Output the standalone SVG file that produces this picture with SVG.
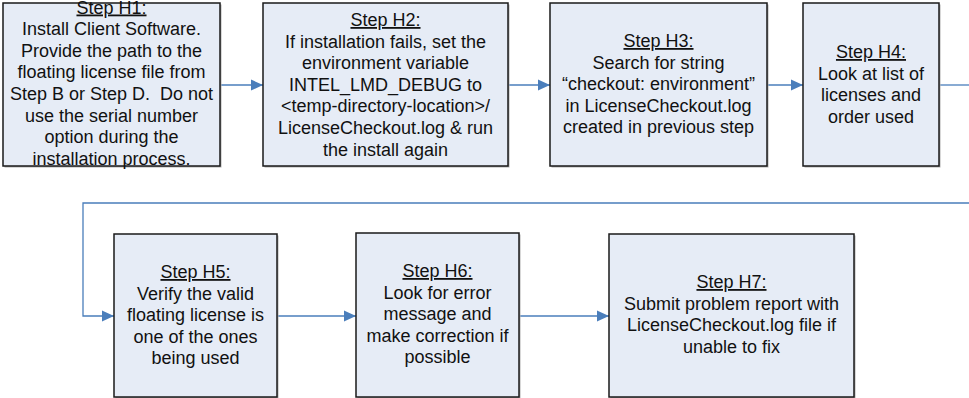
<svg xmlns="http://www.w3.org/2000/svg" width="969" height="398" viewBox="0 0 969 398">
<defs>
<marker id="arr" markerUnits="userSpaceOnUse" markerWidth="14" markerHeight="12" refX="12" refY="6" orient="auto">
<path d="M0,0.5 L12,6 L0,11.5 Z" fill="#4A7EBB"/>
</marker>
</defs>
<style>
.box{fill:#E6ECF6;stroke:#1a1a1a;stroke-width:1.5}
.sh{fill:#b0b0b0}
.t{font-family:"Liberation Sans",Arial,sans-serif;font-size:18px;fill:#111;text-anchor:middle}
.u{text-decoration:underline}
.c{fill:none;stroke:#4A7EBB;stroke-width:1.3}
</style>
<rect width="969" height="398" fill="#fff"/>
<g id="connectors">
<path class="c" d="M220,85 H263" marker-end="url(#arr)"/>
<path class="c" d="M508,85 H550" marker-end="url(#arr)"/>
<path class="c" d="M767,85 H803" marker-end="url(#arr)"/>
<path class="c" d="M939,85 H969"/>
<path class="c" d="M969,203 H83 V316 H114" marker-end="url(#arr)"/>
<path class="c" d="M277,316 H356" marker-end="url(#arr)"/>
<path class="c" d="M519,316 H609" marker-end="url(#arr)"/>
</g>
<g id="H1">
<rect class="sh" x="4.5" y="4.5" width="217" height="163"/>
<rect class="box" x="3" y="3" width="217" height="163"/>
<text class="t" x="111.5" y="13.5"><tspan class="u">Step H1:</tspan><tspan x="111.5" dy="21.6">Install Client Software.</tspan><tspan x="111.5" dy="21.6">Provide the path to the</tspan><tspan x="111.5" dy="21.6">floating license file from</tspan><tspan x="111.5" dy="21.6">Step B or Step D.&#160; Do not</tspan><tspan x="111.5" dy="21.6">use the serial number</tspan><tspan x="111.5" dy="21.6">option during the</tspan><tspan x="111.5" dy="21.6">installation process.</tspan></text>
</g>
<g id="H2">
<rect class="sh" x="264.5" y="4.5" width="245" height="163"/>
<rect class="box" x="263" y="3" width="245" height="163"/>
<text class="t" x="385.5" y="26"><tspan class="u">Step H2:</tspan><tspan x="385.5" dy="21.6">If installation fails, set the</tspan><tspan x="385.5" dy="21.6">environment variable</tspan><tspan x="385.5" dy="21.6">INTEL_LMD_DEBUG to</tspan><tspan x="385.5" dy="21.6">&lt;temp-directory-location&gt;/</tspan><tspan x="385.5" dy="21.6">LicenseCheckout.log &amp; run</tspan><tspan x="385.5" dy="21.6">the install again</tspan></text>
</g>
<g id="H3">
<rect class="sh" x="551.5" y="4.5" width="217" height="163"/>
<rect class="box" x="550" y="3" width="217" height="163"/>
<text class="t" x="658.5" y="47"><tspan class="u">Step H3:</tspan><tspan x="658.5" dy="21.6">Search for string</tspan><tspan x="658.5" dy="21.6">“checkout: environment”</tspan><tspan x="658.5" dy="21.6">in LicenseCheckout.log</tspan><tspan x="658.5" dy="21.6">created in previous step</tspan></text>
</g>
<g id="H4">
<rect class="sh" x="804.5" y="4.5" width="136" height="163"/>
<rect class="box" x="803" y="3" width="136" height="163"/>
<text class="t" x="871" y="58"><tspan class="u">Step H4:</tspan><tspan x="871" dy="21.6">Look at list of</tspan><tspan x="871" dy="21.6">licenses and</tspan><tspan x="871" dy="21.6">order used</tspan></text>
</g>
<g id="H5">
<rect class="sh" x="115.5" y="235.5" width="163" height="163"/>
<rect class="box" x="114" y="234" width="163" height="163"/>
<text class="t" x="195.5" y="278"><tspan class="u">Step H5:</tspan><tspan x="195.5" dy="21.6">Verify the valid</tspan><tspan x="195.5" dy="21.6">floating license is</tspan><tspan x="195.5" dy="21.6">one of the ones</tspan><tspan x="195.5" dy="21.6">being used</tspan></text>
</g>
<g id="H6">
<rect class="sh" x="357.5" y="234.5" width="163" height="164"/>
<rect class="box" x="356" y="233" width="163" height="164"/>
<text class="t" x="437.5" y="277"><tspan class="u">Step H6:</tspan><tspan x="437.5" dy="21.6">Look for error</tspan><tspan x="437.5" dy="21.6">message and</tspan><tspan x="437.5" dy="21.6">make correction if</tspan><tspan x="437.5" dy="21.6">possible</tspan></text>
</g>
<g id="H7">
<rect class="sh" x="610.5" y="235.5" width="245" height="163"/>
<rect class="box" x="609" y="234" width="245" height="163"/>
<text class="t" x="731.5" y="288"><tspan class="u">Step H7:</tspan><tspan x="731.5" dy="21.6">Submit problem report with</tspan><tspan x="731.5" dy="21.6">LicenseCheckout.log file if</tspan><tspan x="731.5" dy="21.6">unable to fix</tspan></text>
</g>
</svg>
